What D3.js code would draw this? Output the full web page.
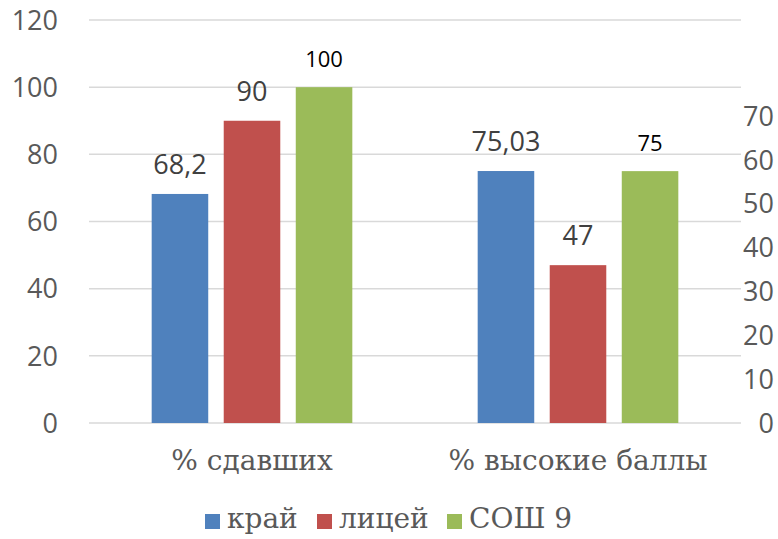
<!DOCTYPE html>
<html>
<head>
<meta charset="utf-8">
<script src="https://cdn.jsdelivr.net/npm/d3@7"></script>
<style>
  body { margin: 0; background: #fff; }
  .serif { font-family: "DejaVu Serif", serif; font-size: 28px; }
</style>
</head>
<body>
<div class="svg__bars"></div>
<script>
const categories = ['% сдавших', '% высокие баллы']
const seriesNames = ['край', 'лицей', 'СОШ 9']
const kraiValues = [68.2, 75.03]
const liceiValues = [90, 47]
const soshValues = [100, 75]
const leftTicks = [0, 20, 40, 60, 80, 100, 120]
const rightTicks = [0, 10, 20, 30, 40, 50, 60, 70]

const seriesValues = [kraiValues, liceiValues, soshValues]
const colors = ['#4f81bd', '#c0504d', '#9bbb59']

const width = 778, height = 539
const plot = { left: 89, right: 741, top: 20, bottom: 423 }

const svg = d3.select('.svg__bars')
    .append('svg')
    .attr('width', width)
    .attr('height', height)

const y = d3.scaleLinear()
    .domain([0, 120])
    .range([plot.bottom, plot.top])

// secondary axis only carries labels, bars use the left one
const yRight = d3.scaleLinear()
    .domain([0, 70])
    .range([plot.bottom, 116])

const x0 = d3.scaleBand()
    .domain(categories)
    .range([plot.left, plot.right])

const x1 = d3.scaleBand()
    .domain(seriesNames)
    .range([0, x0.bandwidth()])
    .paddingInner(0.215)
    .paddingOuter(0.87)

// gridlines
svg.append('g')
    .selectAll('line')
    .data(leftTicks)
    .enter()
    .append('line')
    .attr('x1', plot.left)
    .attr('x2', plot.right)
    .attr('y1', d => y(d))
    .attr('y2', d => y(d))
    .style('stroke', '#d9d9d9')
    .style('stroke-width', 1.5)

svg.append('g')
    .selectAll('text')
    .data(leftTicks)
    .enter()
    .append('text')
    .attr('x', 58)
    .attr('y', d => y(d))
    .attr('dy', '0.36em')
    .attr('text-anchor', 'end')
    .style('font', '27px "Open Sans"')
    .style('fill', '#595959')
    .text(d => d)

svg.append('g')
    .selectAll('text')
    .data(rightTicks)
    .enter()
    .append('text')
    .attr('x', 774)
    .attr('y', d => yRight(d))
    .attr('dy', '0.36em')
    .attr('text-anchor', 'end')
    .style('font', '27px "Open Sans"')
    .style('fill', '#595959')
    .text(d => d)

// bars
const rows = []
seriesNames.forEach((s, si) => {
    categories.forEach((c, ci) => {
        rows.push({ series: s, si: si, category: c, value: seriesValues[si][ci] })
    })
})

svg.append('g')
    .selectAll('rect')
    .data(rows)
    .enter()
    .append('rect')
    .attr('x', d => x0(d.category) + x1(d.series))
    .attr('y', d => y(d.value))
    .attr('width', x1.bandwidth())
    .attr('height', d => y(0) - y(d.value))
    .style('fill', d => colors[d.si])

svg.append('g')
    .selectAll('text')
    .data(rows)
    .enter()
    .append('text')
    .attr('x', d => x0(d.category) + x1(d.series) + x1.bandwidth() / 2)
    .attr('y', d => y(d.value) - 20)
    .attr('text-anchor', 'middle')
    .style('font-family', '"Open Sans"')
    .style('font-size', d => d.si === 2 ? '22px' : '27px')
    .style('fill', d => d.si === 2 ? '#000' : '#404040')
    .text(d => String(d.value).replace('.', ','))

// category labels
svg.append('g')
    .selectAll('text')
    .data(categories)
    .enter()
    .append('text')
    .attr('class', 'serif')
    .attr('x', d => x0(d) + x0.bandwidth() / 2)
    .attr('y', 470)
    .attr('text-anchor', 'middle')
    .style('fill', '#595959')
    .text(d => d)

// legend
const legendX = [205, 317, 447]
const legend = svg.append('g')
    .selectAll('g')
    .data(seriesNames)
    .enter()
    .append('g')
    .attr('transform', (d, i) => `translate(${legendX[i]}, 514)`)

legend.append('rect')
    .attr('width', 15)
    .attr('height', 15)
    .style('fill', (d, i) => colors[i])

legend.append('text')
    .attr('class', 'serif')
    .attr('x', 22)
    .attr('y', 14)
    .style('fill', '#595959')
    .text(d => d)
</script>
</body>
</html>
